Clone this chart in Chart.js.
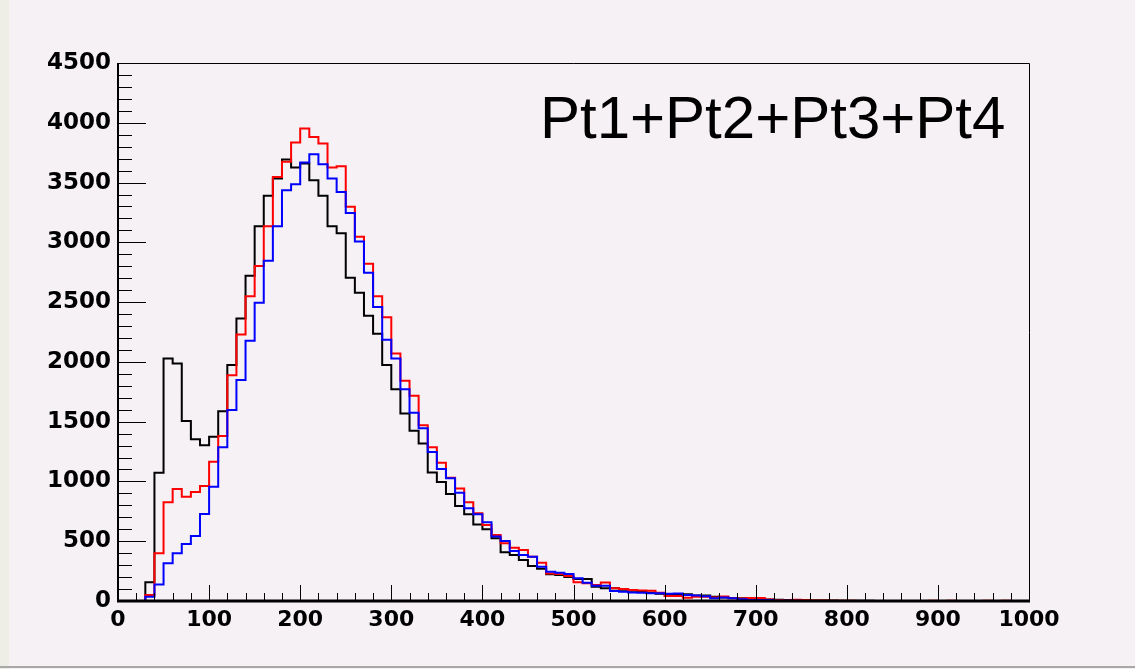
<!DOCTYPE html>
<html>
<head>
<meta charset="utf-8">
<script src="https://cdn.jsdelivr.net/npm/chart.js@4/dist/chart.umd.min.js"></script>
<style>
  html, body { margin: 0; padding: 0; background: #f5f1f5; }
  #wrap { position: relative; width: 1135px; height: 669px; }
</style>
</head>
<body>
<div id="wrap"><canvas id="chartPt"></canvas></div>
<script>
// histogram: 100 bins of width 10, from 0 to 1000
const binWidth = 10;
const xTickLabels = ['0', '100', '200', '300', '400', '500', '600', '700', '800', '900', '1000'];
const yTickLabels = ['0', '500', '1000', '1500', '2000', '2500', '3000', '3500', '4000', '4500'];
const titleText = 'Pt1+Pt2+Pt3+Pt4';

const blackCounts = [
  0, 0, 0, 156, 1072, 2029, 1987, 1505, 1352, 1302,
  1374, 1588, 1973, 2363, 2720, 3135, 3389, 3534, 3692, 3625,
  3660, 3520, 3389, 3135, 3076, 2703, 2578, 2385, 2235, 1973,
  1772, 1569, 1424, 1318, 1075, 995, 895, 794, 725, 640,
  600, 524, 407, 385, 343, 293, 270, 223, 218, 201,
  184, 184, 120, 106, 106, 95, 85, 75, 68, 60,
  55, 50, 56, 45, 45, 35, 30, 25, 22, 20,
  15, 12, 10, 8, 8, 6, 5, 5, 4, 3,
  2, 2, 2, 1, 1, 1, 1, 0, 1, 0,
  0, 0, 0, 0, 0, 0, 0, 0, 0, 0
];
const redCounts = [
  0, 0, 0, 50, 399, 825, 936, 872, 911, 961,
  1165, 1380, 1889, 2229, 2550, 2803, 3135, 3547, 3673, 3835,
  3952, 3882, 3826, 3626, 3637, 3297, 3046, 2820, 2550, 2374,
  2070, 1842, 1717, 1471, 1285, 1157, 1030, 942, 825, 735,
  635, 552, 482, 446, 426, 371, 320, 230, 225, 209,
  156, 148, 134, 154, 106, 100, 92, 88, 86, 70,
  42, 42, 28, 36, 36, 30, 38, 22, 20, 25,
  25, 12, 8, 5, 10, 8, 4, 4, 3, 2,
  2, 1, 1, 1, 1, 0, 1, 0, 0, 3,
  0, 3, 0, 0, 0, 3, 0, 3, 0, 0
];
const blueCounts = [
  0, 0, 0, 36, 139, 315, 399, 477, 543, 727,
  956, 1285, 1597, 1848, 2176, 2494, 2845, 3135, 3436, 3486,
  3667, 3737, 3653, 3534, 3422, 3246, 3008, 2746, 2460, 2185,
  2029, 1772, 1574, 1444, 1246, 1104, 1026, 906, 775, 725,
  658, 540, 502, 418, 385, 371, 287, 245, 236, 226,
  190, 152, 128, 128, 84, 78, 72, 70, 64, 64,
  60, 62, 50, 45, 40, 22, 30, 22, 14, 8,
  8, 8, 2, 2, 2, 1, 1, 1, 1, 0,
  0, 0, 0, 0, 0, 0, 0, 0, 0, 0,
  0, 0, 0, 0, 0, 0, 0, 0, 0, 0
];

// step points at the low edge of each bin, plus the closing edge
function toSteps(counts) {
  const pts = counts.map((c, i) => ({ x: i * binWidth, y: c }));
  pts.push({ x: counts.length * binWidth, y: counts[counts.length - 1] });
  return pts;
}

function histSet(counts, color) {
  return {
    data: toSteps(counts),
    borderColor: color,
    borderWidth: 2,
    stepped: true,
    pointRadius: 0,
    fill: false,
    tension: 0
  };
}

// frame, inner ticks (ROOT style) and the label in the corner
const rootFrame = {
  id: 'rootFrame',
  beforeDraw(chart) {
    const ctx = chart.ctx;
    ctx.save();
    ctx.fillStyle = '#eeeee6';
    ctx.fillRect(0, 0, 9, 669);
    ctx.fillStyle = '#a8a8a8';
    ctx.fillRect(0, 666, 1135, 2);
    ctx.restore();
  },
  afterDraw(chart) {
    const ctx = chart.ctx;
    const a = chart.chartArea;
    const xs = chart.scales.x, ys = chart.scales.y;
    ctx.save();
    ctx.strokeStyle = '#000';
    // thin top/right frame
    ctx.lineWidth = 1;
    ctx.beginPath();
    ctx.moveTo(a.left, a.top + 0.5);
    ctx.lineTo(a.right + 0.5, a.top + 0.5);
    ctx.lineTo(a.right + 0.5, a.bottom);
    ctx.stroke();
    // y ticks
    for (let v = 0; v <= 4500; v += 100) {
      const y = Math.round(ys.getPixelForValue(v)) + 0.5;
      const len = v % 500 === 0 ? 28 : 14;
      ctx.beginPath();
      ctx.moveTo(a.left, y);
      ctx.lineTo(a.left + len, y);
      ctx.stroke();
    }
    // x ticks
    for (let v = 0; v <= 1000; v += 20) {
      const x = Math.round(xs.getPixelForValue(v)) + 0.5;
      const len = v % 100 === 0 ? 16 : 8;
      ctx.beginPath();
      ctx.moveTo(x, a.bottom);
      ctx.lineTo(x, a.bottom - len);
      ctx.stroke();
    }
    // thick left and bottom axes
    ctx.lineWidth = 2;
    ctx.beginPath();
    ctx.moveTo(a.left, a.top);
    ctx.lineTo(a.left, a.bottom);
    ctx.stroke();
    ctx.lineWidth = 3;
    ctx.beginPath();
    ctx.moveTo(a.left - 1, a.bottom);
    ctx.lineTo(a.right + 1, a.bottom);
    ctx.stroke();
    // label
    ctx.fillStyle = '#000';
    ctx.font = '60px "Liberation Sans", Arial, sans-serif';
    ctx.textAlign = 'left';
    ctx.textBaseline = 'alphabetic';
    ctx.fillText(titleText, 540, 138);
    ctx.restore();
  }
};

const xFont = { family: '"DejaVu Sans", sans-serif', size: 22, weight: 'bold' };
const yFont = { family: '"DejaVu Sans", sans-serif', size: 23, weight: 'bold' };

new Chart(document.getElementById('chartPt'), {
  type: 'line',
  data: {
    datasets: [
      histSet(blueCounts, '#0000ff'),
      histSet(redCounts, '#ff0000'),
      histSet(blackCounts, '#000000')
    ]
  },
  options: {
    responsive: true,
    maintainAspectRatio: false,
    animation: false,
    layout: { padding: { left: 0, top: 63, right: 106, bottom: 20 } },
    plugins: { legend: { display: false }, tooltip: { enabled: false } },
    scales: {
      x: {
        type: 'linear',
        min: 0,
        max: 1000,
        afterFit: s => { s.height = 48; },
        grid: { display: false, drawTicks: false },
        border: { display: false },
        ticks: {
          stepSize: 100,
          autoSkip: false,
          maxRotation: 0,
          padding: 6,
          color: '#000',
          font: xFont,
          callback: (v, i) => xTickLabels[i]
        }
      },
      y: {
        min: 0,
        max: 4500,
        afterFit: s => { s.width = 118; },
        grid: { display: false, drawTicks: false },
        border: { display: false },
        ticks: {
          stepSize: 500,
          autoSkip: false,
          padding: 7,
          color: '#000',
          font: yFont,
          callback: (v, i) => yTickLabels[i]
        }
      }
    }
  },
  plugins: [rootFrame]
});
</script>
</body>
</html>
